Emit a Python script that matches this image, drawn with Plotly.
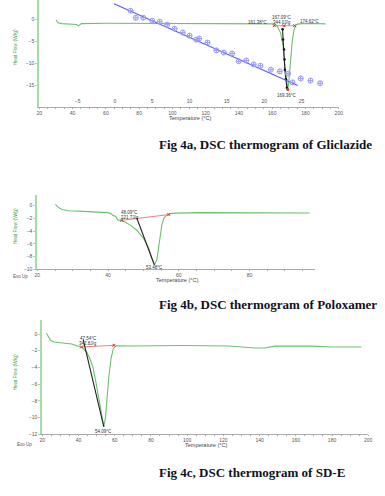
import plotly.graph_objects as go

# ---------------- Panel a : Gliclazide ----------------
a_temp = [30, 31.2, 33.5, 39.4, 42.4, 43.5, 44.7, 45.3, 60, 80, 100, 120, 140, 155, 160, 161.4, 163,
          165, 166.5, 167.5, 168.5, 169.36, 170, 170.6, 171.2, 172, 173, 174, 175, 178, 185, 192]
a_flow = [0, -0.7, -0.9, -1.0, -1.1, -1.4, -1.1, -0.9, -0.8, -0.8, -0.85, -0.85, -0.9, -0.9, -0.95, -1.0, -1.5,
          -3, -6, -10, -14, -15.9, -14, -11, -8, -5, -2.5, -1.4, -1.0, -0.9, -0.85, -0.95]
a_int_temp = [166.2, 166.5, 167.1, 167.4, 167.6, 168.2, 168.8]
a_int_flow = [-2.2, -4.5, -6.8, -9.1, -11.4, -13.6, -15.5]
a_base_temp = [161.2, 167.09, 173.5]
a_base_flow = [-1.36, -1.36, -1.36]
a_peak_temp = [169.36]
a_peak_flow = [-15.9]
# stray blue overlay (regression line + points) in its own x units
blue_line_x = [-0.13, 24.5]
blue_line_y = [3.64, -15.0]
blue_pts_x = [2.1, 2.8, 3.8, 5.0, 6.0, 7.0, 8.0, 9.1, 10.0, 10.9, 11.3, 12.4, 13.6, 14.6, 15.7, 16.6,
              17.6, 18.6, 19.5, 20.9, 22.1, 23.2, 23.8, 24.9, 26.2, 27.5]
blue_pts_y = [2.05, 0.45, 0.45, -0.23, -0.45, -1.14, -2.05, -2.95, -3.64, -4.55, -4.3, -5.2, -7.0, -7.5,
              -7.7, -9.5, -9.3, -10.2, -10.5, -11.4, -11.8, -12.3, -14.3, -13.4, -13.9, -14.5]
blue_ticks = [-5, 0, 5, 10, 15, 20, 25]

# ---------------- Panel b : Poloxamer ----------------
b_temp = [25.1, 26, 27, 28.8, 34.4, 39.9, 40.8, 41.3, 42.2, 42.7, 43.6, 44.5, 46.4, 48.2, 50.1, 51.5,
          52.4, 53.1, 53.8, 54.3, 54.7, 55.2, 55.8, 56.6, 57.5, 59.4, 65.8, 80, 97]
b_flow = [0.2, -0.3, -0.6, -0.8, -0.94, -1.1, -1.25, -1.5, -1.7, -2.2, -2.35, -2.5, -3.1, -3.9, -5.2, -6.7,
          -8.3, -9.3, -8.5, -6.7, -4.6, -3.1, -2.0, -1.5, -1.25, -1.17, -1.1, -1.12, -1.15]
b_base_temp = [43.9, 57.2]
b_base_flow = [-2.3, -1.4]
b_int_temp = [48.1, 53.1]
b_int_flow = [-1.9, -9.3]

# ---------------- Panel c : SD-E ----------------
c_temp = [22.3, 23.3, 24.5, 26.3, 30.8, 36.3, 41.7, 44.4, 46.2, 48, 49.8, 51.6, 53.1, 54.0, 54.9, 55.8,
          56.7, 58, 59.2, 60.7, 70.4, 96.8, 123, 137.5, 143, 148.4, 168.2, 180.9, 196.3]
c_flow = [0.1, -0.3, -0.75, -0.95, -1.07, -1.2, -1.6, -2.1, -2.9, -4.0, -6.0, -8.4, -10.4, -11.1, -10.0,
          -7.6, -5.2, -2.9, -1.75, -1.4, -1.43, -1.38, -1.43, -1.67, -1.67, -1.45, -1.45, -1.55, -1.55]
c_base_temp = [41.7, 59.6]
c_base_flow = [-1.55, -1.35]
c_int_temp = [42.6, 54.0]
c_int_flow = [-0.68, -11.1]

GREEN = "#6cc26c"
AXGREEN = "#a6dca6"
GRAY = "#555555"
RED = "#f08080"

W, H = 385, 496
def px(x):
    return x / W
def py(y):
    return 1 - y / H

fig = go.Figure()

def green(x, y, xa, ya):
    fig.add_trace(go.Scatter(x=x, y=y, xaxis=xa, yaxis=ya, mode="lines",
                             line=dict(color=GREEN, width=1.1), hoverinfo="skip"))

def redline(x, y, xa, ya):
    fig.add_trace(go.Scatter(x=x, y=y, xaxis=xa, yaxis=ya, mode="lines+markers",
                             line=dict(color=RED, width=1),
                             marker=dict(color="#e03030", size=3, symbol="x-thin", line=dict(width=1, color="#e03030")),
                             hoverinfo="skip"))

def blackline(x, y, xa, ya, markers=False):
    fig.add_trace(go.Scatter(x=x, y=y, xaxis=xa, yaxis=ya, mode="lines+markers" if markers else "lines",
                             line=dict(color="#222222", width=1.1),
                             marker=dict(color="#111111", size=2.5), hoverinfo="skip"))

# panel a
fig.add_trace(go.Scatter(x=blue_line_x, y=blue_line_y, xaxis="x4", yaxis="y", mode="lines",
                         line=dict(color="#5b5bf0", width=1.1), hoverinfo="skip"))
fig.add_trace(go.Scatter(x=blue_pts_x, y=blue_pts_y, xaxis="x4", yaxis="y", mode="markers",
                         marker=dict(symbol="circle-cross-open", size=5, color="#9a9af7", line=dict(width=1)),
                         hoverinfo="skip"))
green(a_temp, a_flow, "x", "y")
redline(a_base_temp, a_base_flow, "x", "y")
blackline(a_int_temp, a_int_flow, "x", "y", markers=True)
fig.add_trace(go.Scatter(x=a_peak_temp, y=a_peak_flow, xaxis="x", yaxis="y", mode="markers",
                         marker=dict(color="#e03030", size=3), hoverinfo="skip"))
# panel b
green(b_temp, b_flow, "x2", "y2")
redline(b_base_temp, b_base_flow, "x2", "y2")
blackline(b_int_temp, b_int_flow, "x2", "y2")
# panel c
green(c_temp, c_flow, "x3", "y3")
redline(c_base_temp, c_base_flow, "x3", "y3")
blackline(c_int_temp, c_int_flow, "x3", "y3")

tickfont = dict(family="Liberation Sans, Arial", size=5, color=GRAY)

def xax(dom, rng, anchor, dtick=20):
    return dict(domain=dom, range=rng, anchor=anchor, showgrid=False, zeroline=False,
                showline=True, linecolor="#aaaaaa", linewidth=1, ticks="outside", ticklen=1,
                tickcolor="#aaaaaa", dtick=dtick, tick0=0, tickfont=tickfont,
                minor=dict(ticks="outside", ticklen=1, dtick=5, tickcolor="#aaaaaa"))

def yax(dom, rng, anchor, dtick):
    return dict(domain=dom, range=rng, anchor=anchor, showgrid=False, zeroline=False,
                showline=True, linecolor=AXGREEN, linewidth=2, ticks="outside", ticklen=2,
                tickcolor=AXGREEN, dtick=dtick, tick0=0, tickfont=tickfont)

fig.update_layout(
    width=W, height=H, autosize=False, showlegend=False,
    margin=dict(l=0, r=0, t=0, b=0),
    paper_bgcolor="white", plot_bgcolor="white",
    xaxis=xax([px(37), px(342)], [20, 200], "y"),
    yaxis=yax([py(108), 1.0], [-20, 4.5], "x", 5),
    xaxis4=dict(domain=[px(37), px(342)], range=[-10.13, 30], overlaying="x", anchor="y", side="bottom",
                showgrid=False, zeroline=False, showline=False, ticks="", tickvals=blue_ticks,
                ticklabelposition="inside", tickfont=tickfont),
    xaxis2=xax([px(35), px(318)], [20, 98.6], "y2"),
    yaxis2=yax([py(271), py(196)], [-10, 1.7], "x2", 2),
    xaxis3=xax([px(40), px(372)], [20, 200], "y3"),
    yaxis3=yax([py(437), py(322)], [-12, 1.67], "x3", 2),
)

ann = []
def t(text, x, y, xref, yref, size=4.5, color="#333333", **kw):
    ann.append(dict(text=text, x=x, y=y, xref=xref, yref=yref, showarrow=False,
                    xanchor="center", yanchor="middle",
                    font=dict(family="Liberation Sans, Arial", size=size, color=color), **kw))

# panel a labels
t("161.38°C", 151.2, -0.6, "x", "y")
t("167.09°C", 165.9, 0.55, "x", "y")
t("344.0J/g", 165.9, -0.6, "x", "y")
t("174.62°C", 183, -0.5, "x", "y")
t("169.36°C", 168.8, -17.3, "x", "y")
# panel b labels
t("48.09°C", 46.1, -1.1, "x2", "y2")
t("221.7J/g", 46.1, -1.85, "x2", "y2")
t("53.48°C", 53.0, -9.75, "x2", "y2")
# panel c labels
t("47.54°C", 45.5, -0.55, "x3", "y3")
t("342.8J/g", 45.5, -1.1, "x3", "y3")
t("54.09°C", 53.6, -11.6, "x3", "y3")

# axis titles
for (xc, yc) in [(190, 119), (177, 282), (207, 448)]:
    t("Temperature (°C)", px(xc), py(yc), "paper", "paper", size=5.5, color="#444444")
for yc in [48, 228, 375]:
    t("Heat Flow (W/g)", px(12), py(yc), "paper", "paper", size=5, color="#3c9a3c", textangle=-90)
t("Exo Up", px(18), py(278), "paper", "paper", size=4.5, color="#555555")
t("Exo Up", px(22), py(447), "paper", "paper", size=4.5, color="#555555")

# captions
cap = dict(family="Liberation Serif, Times New Roman, serif", size=13, color="#111122")
for text, yc in [("<b>Fig 4a, DSC thermogram of Gliclazide</b>", 145),
                 ("<b>Fig 4b, DSC thermogram of Poloxamer</b>", 306),
                 ("<b>Fig 4c, DSC thermogram of SD-E</b>", 475)]:
    ann.append(dict(text=text, x=px(157), y=py(yc), xref="paper", yref="paper", showarrow=False,
                    xanchor="left", yanchor="middle", font=cap))

fig.update_layout(annotations=ann)
fig.write_html("out.html", config={"displayModeBar": False},
               post_script="document.body.style.margin='0';document.body.style.overflow='hidden';")
